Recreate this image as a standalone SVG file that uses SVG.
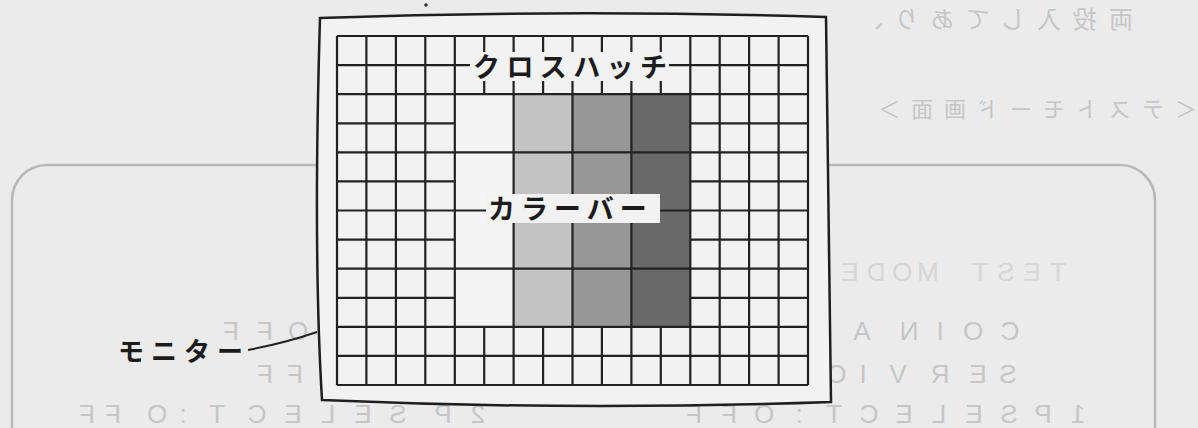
<svg xmlns="http://www.w3.org/2000/svg" width="1198" height="428" viewBox="0 0 1198 428">
<style>
.g{stroke:#222;stroke-width:2.2;fill:none}
.lbl{font-family:"Noto Sans CJK JP","Noto Sans",sans-serif;font-weight:700;fill:#1c1c1c}
.ghost{font-family:"Noto Sans CJK JP","Liberation Sans",sans-serif;fill:#c6c6c6}
.gl{font-family:"Liberation Sans","Noto Sans",sans-serif;fill:#c6c6c6;font-size:26px;text-anchor:middle}
.box{fill:#f2f2f2;stroke:none}
</style>
<rect x="0" y="0" width="1198" height="428" fill="#ebebeb"/>
<g id="bleed-through">
<rect x="12" y="165" width="1143" height="320" rx="35" fill="none" stroke="#b8b8b8" stroke-width="2.5"/>
<g transform="matrix(-1 0 0 1 1198 0)">
<text class="ghost" x="65" y="28" font-size="24" letter-spacing="12">両投入してあり、</text>
<text class="ghost" x="1" y="117" font-size="22" letter-spacing="11">＜テストモード画面＞</text>
<text class="gl" style="fill:#d6d6d6" y="281" x="140 166 192 218 270 296 322 348">TESTMODE</text>
<text class="gl" y="340" x="188 225 258 289 336 373 410 447 484">COINA:OFF</text>
<text class="gl" y="340" x="678 715 752 789 826 863 900 933 967">COINB:OFF</text>
<text class="gl" y="383" x="190 220 258 300 335 361 395 430 465 500 535">SERVICE:OFF</text>
<text class="gl" y="383" x="693 728 763 798 833 868 903 933">TILT:OFF</text>
<text class="gl" y="423" x="120 155 189 224 259 294 329 364 399 434 469 504">1PSELECT:OFF</text>
<text class="gl" y="423" x="720 755 800 835 870 905 941 981 1015 1041 1085 1111">2PSELECT:OFF</text>
</g>
</g>
<g id="monitor">
<path d="M 320 18 Q 572 9 826 17 L 831 402 Q 576 411 322 400 Q 313 250 320 18 Z" fill="#f2f2f2" stroke="#1f1f1f" stroke-width="2.5"/>
<circle cx="426" cy="5" r="1.8" fill="#333"/>
</g>
<g id="colorbars">
<rect x="454.8" y="94.2" width="58.8" height="232.6" fill="#f4f4f4"/>
<rect x="513.6" y="94.2" width="58.9" height="232.6" fill="#c3c3c3"/>
<rect x="572.5" y="94.2" width="58.9" height="232.6" fill="#979797"/>
<rect x="631.4" y="94.2" width="58.9" height="232.6" fill="#696969"/>
</g>
<g id="crosshatch-grid" class="g">
<path d="M337 36V385M366.4 36V385M395.9 36V385M425.3 36V385M454.8 36V385M513.6 36V385M572.5 36V385M631.4 36V385M690.3 36V385M719.7 36V385M749.1 36V385M778.6 36V385M808 36V385"/>
<path d="M484.2 36V94.2M543.1 36V94.2M601.9 36V94.2M660.8 36V94.2M484.2 326.8V385M543.1 326.8V385M601.9 326.8V385M660.8 326.8V385"/>
<path d="M337 36H808M337 65.1H808M337 94.2H808M337 152.3H808M337 210.5H808M337 268.7H808M337 326.8H808M337 355.9H808M337 385H808"/>
<path d="M337 123.3H454.8M690.3 123.3H808M337 181.4H454.8M690.3 181.4H808M337 239.6H454.8M690.3 239.6H808M337 297.8H454.8M690.3 297.8H808"/>
</g>
<g id="label-crosshatch">
<rect class="box" x="470" y="52" width="199" height="29"/>
<text class="lbl" x="473" y="77" font-size="27" letter-spacing="6.4">クロスハッチ</text>
</g>
<g id="label-colorbar">
<rect class="box" x="486" y="194" width="174" height="29"/>
<text class="lbl" x="488" y="219" font-size="27" letter-spacing="6">カラーバー</text>
</g>
<g id="label-monitor">
<text class="lbl" x="118" y="361" font-size="26" letter-spacing="7">モニター</text>
</g>
<g id="connectors">
<path d="M 248 350 Q 285 343 317 332" fill="none" stroke="#222" stroke-width="2"/>
</g>
</svg>
